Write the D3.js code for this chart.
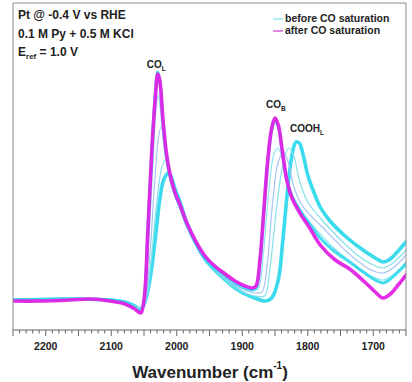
<!DOCTYPE html>
<html><head><meta charset="utf-8">
<script src="https://cdn.jsdelivr.net/npm/d3@7"></script>
<style>
html,body{margin:0;padding:0;background:#fff;}
svg{display:block;font-family:"Liberation Sans",Arial,sans-serif;}
text{font-weight:bold;fill:#222;}
</style></head><body>
<svg id="c" width="412" height="382"></svg>
<script>
// ---- data: [wavenumber (cm-1), absorbance (a.u.)] ----
const afterSat = [[2250,-0.01],[2209,-0.01],[2163,0.00],[2132,0.01],[2102,-0.01],[2079,-0.04],[2064,-0.09],[2055,-0.13],[2050,0.00],[2044,0.70],[2038,1.50],[2033,2.00],[2029,2.26],[2026,2.20],[2021,1.80],[2016,1.48],[2010,1.25],[2003,1.08],[1995,0.95],[1984,0.76],[1972,0.60],[1957,0.44],[1942,0.34],[1926,0.26],[1911,0.19],[1896,0.14],[1885,0.12],[1879,0.14],[1873,0.40],[1867,0.90],[1861,1.40],[1855,1.72],[1850,1.82],[1845,1.75],[1839,1.50],[1832,1.20],[1824,1.02],[1812,0.87],[1797,0.72],[1781,0.55],[1758,0.40],[1736,0.31],[1713,0.18],[1697,0.08],[1685,0.02],[1674,0.06],[1662,0.15],[1650,0.25]];
const beforeInit = [[2250,0.00],[2163,0.01],[2102,0.00],[2079,-0.02],[2064,-0.06],[2055,-0.09],[2049,-0.03],[2041,0.20],[2033,0.60],[2026,1.00],[2020,1.20],[2013,1.27],[2009,1.24],[2003,1.12],[1995,0.98],[1984,0.76],[1972,0.58],[1957,0.41],[1942,0.30],[1926,0.20],[1911,0.12],[1896,0.06],[1881,0.02],[1865,-0.01],[1855,0.02],[1845,0.20],[1838,0.60],[1830,1.15],[1824,1.45],[1818,1.58],[1813,1.57],[1807,1.45],[1800,1.25],[1792,1.10],[1781,0.93],[1766,0.79],[1743,0.64],[1720,0.52],[1697,0.42],[1685,0.38],[1674,0.41],[1662,0.49],[1650,0.58]];
const beforeSat = [[2250,0.00],[2163,0.01],[2102,0.00],[2079,-0.03],[2064,-0.08],[2055,-0.11],[2050,0.00],[2044,0.72],[2038,1.52],[2033,2.03],[2029,2.28],[2026,2.20],[2021,1.78],[2016,1.46],[2010,1.23],[2003,1.06],[1995,0.93],[1984,0.74],[1972,0.58],[1957,0.42],[1942,0.32],[1926,0.24],[1911,0.17],[1896,0.12],[1885,0.10],[1879,0.12],[1873,0.38],[1867,0.88],[1861,1.38],[1855,1.70],[1850,1.80],[1845,1.73],[1839,1.48],[1832,1.20],[1824,1.04],[1812,0.90],[1797,0.76],[1781,0.62],[1758,0.48],[1736,0.38],[1713,0.27],[1697,0.20],[1685,0.17],[1674,0.21],[1662,0.28],[1650,0.36]];
const interA = [[2250,0.00],[2163,0.01],[2102,0.00],[2079,-0.03],[2060,-0.08],[2054,-0.11],[2049,0.00],[2043,0.55],[2036,1.40],[2031,1.95],[2028,2.05],[2025,1.90],[2020,1.55],[2014,1.30],[2008,1.16],[2000,1.03],[1990,0.88],[1975,0.66],[1957,0.44],[1940,0.32],[1920,0.22],[1900,0.14],[1885,0.10],[1876,0.11],[1868,0.45],[1860,1.05],[1852,1.45],[1846,1.52],[1840,1.45],[1832,1.20],[1823,1.02],[1810,0.88],[1795,0.76],[1781,0.66],[1760,0.52],[1740,0.41],[1720,0.31],[1700,0.23],[1685,0.20],[1672,0.24],[1660,0.31],[1650,0.38]];
const interB = [[2250,0.00],[2163,0.01],[2102,0.00],[2079,-0.03],[2060,-0.08],[2054,-0.10],[2048,0.00],[2041,0.45],[2034,1.15],[2028,1.62],[2024,1.73],[2020,1.65],[2015,1.42],[2008,1.20],[2000,1.05],[1990,0.88],[1975,0.66],[1957,0.43],[1940,0.30],[1920,0.19],[1900,0.11],[1880,0.07],[1870,0.08],[1862,0.35],[1854,0.95],[1845,1.38],[1837,1.48],[1830,1.38],[1822,1.15],[1810,0.96],[1795,0.84],[1781,0.75],[1760,0.61],[1740,0.48],[1720,0.37],[1700,0.29],[1685,0.27],[1672,0.31],[1660,0.38],[1650,0.45]];
const interC = [[2250,0.00],[2163,0.01],[2102,0.00],[2079,-0.03],[2060,-0.07],[2054,-0.10],[2047,0.00],[2039,0.40],[2031,0.95],[2023,1.32],[2018,1.40],[2013,1.33],[2006,1.17],[2000,1.05],[1990,0.88],[1975,0.64],[1957,0.42],[1940,0.29],[1920,0.17],[1900,0.08],[1880,0.04],[1866,0.04],[1858,0.30],[1848,0.90],[1838,1.35],[1829,1.52],[1822,1.45],[1812,1.18],[1800,0.98],[1781,0.82],[1760,0.67],[1740,0.54],[1720,0.43],[1700,0.35],[1685,0.32],[1672,0.36],[1660,0.43],[1650,0.50]];
const xTicks = [2200,2100,2000,1900,1800,1700];
const legendLabels = ["before CO saturation","after CO saturation"];
const notes = ["Pt @ -0.4 V vs RHE","0.1 M Py + 0.5 M KCl"];
const peakLabels = [{main:"CO",sub:"L",w:2029,v:2.26},{main:"CO",sub:"B",w:1850,v:1.82},{main:"COOH",sub:"L",w:1818,v:1.58}];

// ---- layout ----
const svg = d3.select("#c");
const L=13, R=406, T=3, B=330;
const x = d3.scaleLinear().domain([2250,1650]).range([L,R]);
const y = d3.scaleLinear().domain([-0.30,2.97]).range([B,T]);
const line = d3.line().x(d=>x(d[0])).y(d=>y(d[1])).curve(d3.curveCatmullRom.alpha(0.5));

const cyan="#2fd9ec", mag="#e021e4";
const g = svg.append("g");
g.append("defs").append("clipPath").attr("id","clp").append("rect")
  .attr("x",L).attr("y",T).attr("width",R-L).attr("height",B-T);
const plot = g.append("g").attr("clip-path","url(#clp)");
const series = [
  {d:beforeInit,c:cyan,w:3.6,o:0.95},
  {d:interC,c:"#86e0ec",w:1.2,o:1},
  {d:interB,c:"#a9c4f2",w:1.2,o:1},
  {d:interA,c:"#8fe6f0",w:1.2,o:1},
  {d:beforeSat,c:cyan,w:3.0,o:0.9},
  {d:afterSat,c:mag,w:3.6,o:0.95}
];
series.forEach(s=>{
  plot.append("path").attr("d",line(s.d)).attr("fill","none")
    .attr("stroke",s.c).attr("stroke-width",s.w).attr("stroke-opacity",s.o)
    .attr("stroke-linejoin","round").attr("stroke-linecap","round");
});

// frame
g.append("path").attr("d",`M${L},${B}V${T}H${R}V${B}`).attr("fill","none").attr("stroke","#8a8a8a").attr("stroke-width",1);

// x axis
const minor = d3.range(1650,2251,10);
const ax = g.append("g").attr("transform",`translate(0,${B})`);
ax.append("line").attr("x1",L).attr("x2",R).attr("stroke","#666").attr("stroke-width",1.2);
ax.selectAll("line.mn").data(minor).join("line").attr("class","mn")
  .attr("x1",d=>x(d)).attr("x2",d=>x(d)).attr("y1",0).attr("y2",d=>d%50===0?6:3.5)
  .attr("stroke","#666").attr("stroke-width",1);
ax.selectAll("text").data(xTicks).join("text")
  .attr("x",d=>x(d)).attr("y",20).attr("text-anchor","middle")
  .attr("font-size","10.5px").text(d=>d);

// axis title
const t = g.append("text").attr("x",210).attr("y",378).attr("text-anchor","middle").attr("font-size","17px");
t.append("tspan").text("Wavenumber (cm");
t.append("tspan").attr("dy",-9).attr("font-size","10px").text("-1");
t.append("tspan").attr("dy",9).text(")");

// notes
notes.forEach((n,i)=>{
  g.append("text").attr("x",18).attr("y",19+i*18.5).attr("font-size","12px").text(n);
});
const e = g.append("text").attr("x",18).attr("y",56).attr("font-size","12px");
e.append("tspan").text("E");
e.append("tspan").attr("dy",3).attr("font-size","8px").text("ref");
e.append("tspan").attr("dy",-3).text(" = 1.0 V");

// legend
[cyan,mag].forEach((c,i)=>{
  const yy = 19+i*12;
  g.append("line").attr("x1",273).attr("x2",283).attr("y1",yy).attr("y2",yy)
    .attr("stroke",i===0?"#7fe3f0":"#d33ad6").attr("stroke-width",1.2);
  g.append("text").attr("x",285).attr("y",yy+3).attr("font-size","10.5px").text(legendLabels[i]);
});

// peak labels
const pOff = [[-11,-6],[-9,-10],[-6,-10]];
peakLabels.forEach((p,i)=>{
  const tx = g.append("text").attr("x",x(p.w)+pOff[i][0]).attr("y",y(p.v)+pOff[i][1])
    .attr("font-size","10px");
  tx.append("tspan").text(p.main);
  tx.append("tspan").attr("dy",2.5).attr("font-size","6.5px").text(p.sub);
});
</script></body></html>
